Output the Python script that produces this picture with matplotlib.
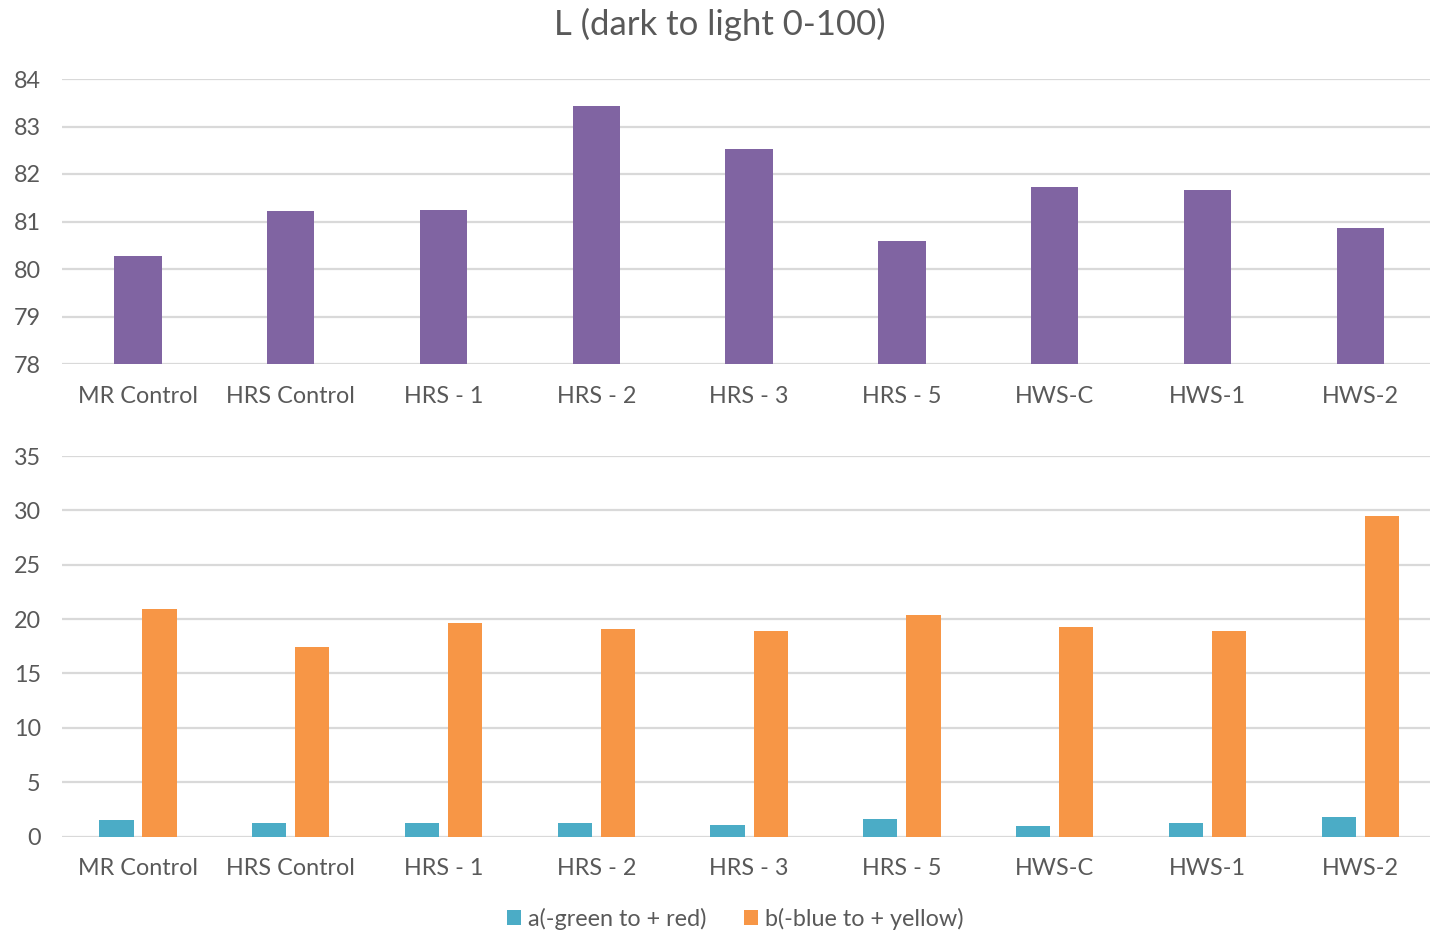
import matplotlib
matplotlib.use("Agg")
import matplotlib.pyplot as plt
import numpy as np

categories = ["MR Control", "HRS Control", "HRS - 1", "HRS - 2", "HRS - 3",
              "HRS - 5", "HWS-C", "HWS-1", "HWS-2"]
L_values = [80.28, 81.22, 81.25, 83.44, 82.53, 80.6, 81.72, 81.67, 80.87]
a_values = [1.55, 1.2, 1.2, 1.2, 1.1, 1.65, 1.0, 1.2, 1.8]
b_values = [20.93, 17.46, 19.64, 19.05, 18.9, 20.4, 19.3, 18.9, 29.5]
L_ticks = [78, 79, 80, 81, 82, 83, 84]
ab_ticks = [0, 5, 10, 15, 20, 25, 30, 35]

title = "L (dark to light 0-100)"
a_label = "a(-green to + red)"
b_label = "b(-blue to + yellow)"

TEXT = "#595959"
GRID = "#d9d9d9"
PURPLE = "#8064A2"
TEAL = "#4BACC6"
ORANGE = "#F79646"

plt.rcParams["font.family"] = ["Lato", "DejaVu Sans"]

W, H = 1430, 936
fig = plt.figure(figsize=(W / 100, H / 100), dpi=100)

LEFT, RIGHT = 61.6, 1436.6
FS = 16.8


def px_axes(left, top, right, bottom):
    return fig.add_axes([left / W, 1 - bottom / H, (right - left) / W, (bottom - top) / H])


def style(ax, ticks):
    for s in ax.spines.values():
        s.set_visible(False)
    ax.set_yticks(ticks)
    ax.set_ylim(ticks[0], ticks[-1])
    ax.yaxis.grid(True, color=GRID, linewidth=1.6)
    ax.set_axisbelow(True)
    ax.tick_params(axis="y", length=0, pad=15, labelsize=FS, labelcolor=TEXT)
    ax.tick_params(axis="x", length=0, pad=15.5, labelsize=FS, labelcolor=TEXT)
    ax.set_xlim(-0.5, len(categories) - 0.5)
    ax.set_xticks(np.arange(len(categories)))
    ax.set_xticklabels(categories)


x = np.arange(len(categories))

# Lightness panel
ax1 = px_axes(LEFT, 79, RIGHT, 364)
ax1.bar(x, L_values, width=0.31, color=PURPLE, zorder=2)
style(ax1, L_ticks)
fig.text(0.5035, 1 - 24 / H, title, ha="center", va="center", fontsize=25, color=TEXT)

# a / b panel
ax2 = px_axes(LEFT, 456, RIGHT, 836.5)
off = 0.141
w = 0.224
ax2.bar(x - off, a_values, width=w, color=TEAL, label=a_label, zorder=2)
ax2.bar(x + off, b_values, width=w, color=ORANGE, label=b_label, zorder=2)
style(ax2, ab_ticks)

handles, labels = ax2.get_legend_handles_labels()
fig.legend(handles, labels, loc="center", bbox_to_anchor=(0.514, 1 - 919 / H),
           ncol=2, frameon=False, fontsize=FS, labelcolor=TEXT,
           handlelength=0.6, handleheight=0.6, handletextpad=0.3, columnspacing=1.6)

fig.savefig("out.png", dpi=100, facecolor="white")
